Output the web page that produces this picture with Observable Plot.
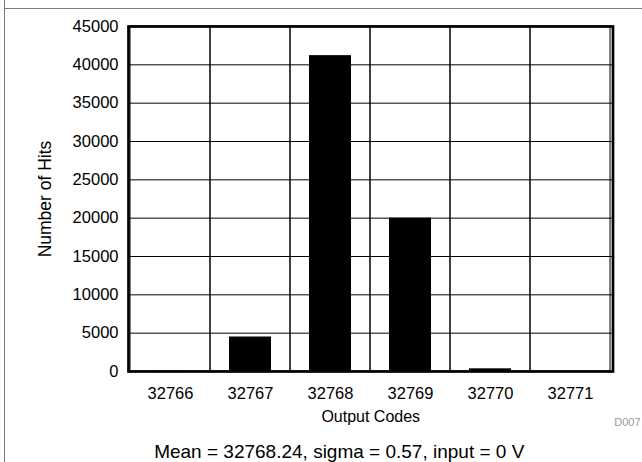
<!DOCTYPE html>
<html>
<head>
<meta charset="utf-8">
<script src="https://cdn.jsdelivr.net/npm/d3@7"></script>
<script src="https://cdn.jsdelivr.net/npm/@observablehq/plot@0.6"></script>
<style>
  html, body { margin: 0; padding: 0; background: #fff; }
  #wrap { position: relative; width: 642px; height: 462px; overflow: hidden; }
  #bl { position: absolute; left: 4px; top: 0; width: 0; height: 462px; border-left: 1px solid #7a7a7a; }
  #bt { position: absolute; left: 4px; top: 8px; width: 638px; height: 0; border-top: 1px solid #7a7a7a; }
</style>
</head>
<body>
<div id="wrap"><div id="bl"></div><div id="bt"></div></div>
<script>
const codes = [32766, 32767, 32768, 32769, 32770, 32771];
const hits = [20, 4500, 41200, 20000, 350, 10];
const yTicks = [0, 5000, 10000, 15000, 20000, 25000, 30000, 35000, 40000, 45000];
const xLabel = "Output Codes";
const yLabel = "Number of Hits";
const caption = "Mean = 32768.24, sigma = 0.57, input = 0 V";
const figId = "D007";

const data = codes.map((c, i) => ({code: c, hits: hits[i]}));
const font = "'Liberation Sans', Arial, Helvetica, sans-serif";

const chart = Plot.plot({
  width: 642,
  height: 462,
  marginLeft: 128,
  marginRight: 29.5,
  marginTop: 26,
  marginBottom: 91,
  style: {fontFamily: font, fontSize: "16px", background: "transparent", color: "#000"},
  x: {type: "band", domain: codes, padding: 0, axis: null},
  y: {domain: [0, 45000], axis: null},
  marks: [
    Plot.ruleY(yTicks, {stroke: "#000", strokeWidth: 1}),
    Plot.barY(codes, {x: d => d, y1: 0, y2: 45000, fill: "none", stroke: "#000", strokeWidth: 1}),
    Plot.barY(data, {x: "code", y: "hits", fill: "#000", insetLeft: 19, insetRight: 19}),
    Plot.frame({stroke: "#000", strokeWidth: 2.7}),
    Plot.axisY({ticks: yTicks, tickSize: 0, tickPadding: 10, label: null, fontSize: 16.5, tickFormat: d => String(d)}),
    Plot.axisX({tickSize: 0, tickPadding: 16, label: null, fontSize: 16.5, tickFormat: d => String(d)}),
    Plot.text([xLabel], {frameAnchor: "bottom", textAnchor: "middle", lineAnchor: "bottom", dy: 50, fontSize: 16, fill: "#000"}),
    Plot.text([yLabel], {frameAnchor: "left", textAnchor: "middle", lineAnchor: "middle", dx: -83, rotate: -90, fontSize: 17.5, fill: "#000"}),
    Plot.text([caption], {frameAnchor: "bottom", textAnchor: "middle", lineAnchor: "bottom", dx: -31.5, dy: 86, fontSize: 19, fill: "#000"}),
    Plot.text([figId], {frameAnchor: "bottom-right", textAnchor: "end", lineAnchor: "bottom", dx: 27.5, dy: 54, fontSize: 11, fill: "#999"})
  ]
});
chart.style.position = "absolute";
chart.style.left = "0";
chart.style.top = "0";
document.getElementById("wrap").appendChild(chart);
</script>
</body>
</html>
